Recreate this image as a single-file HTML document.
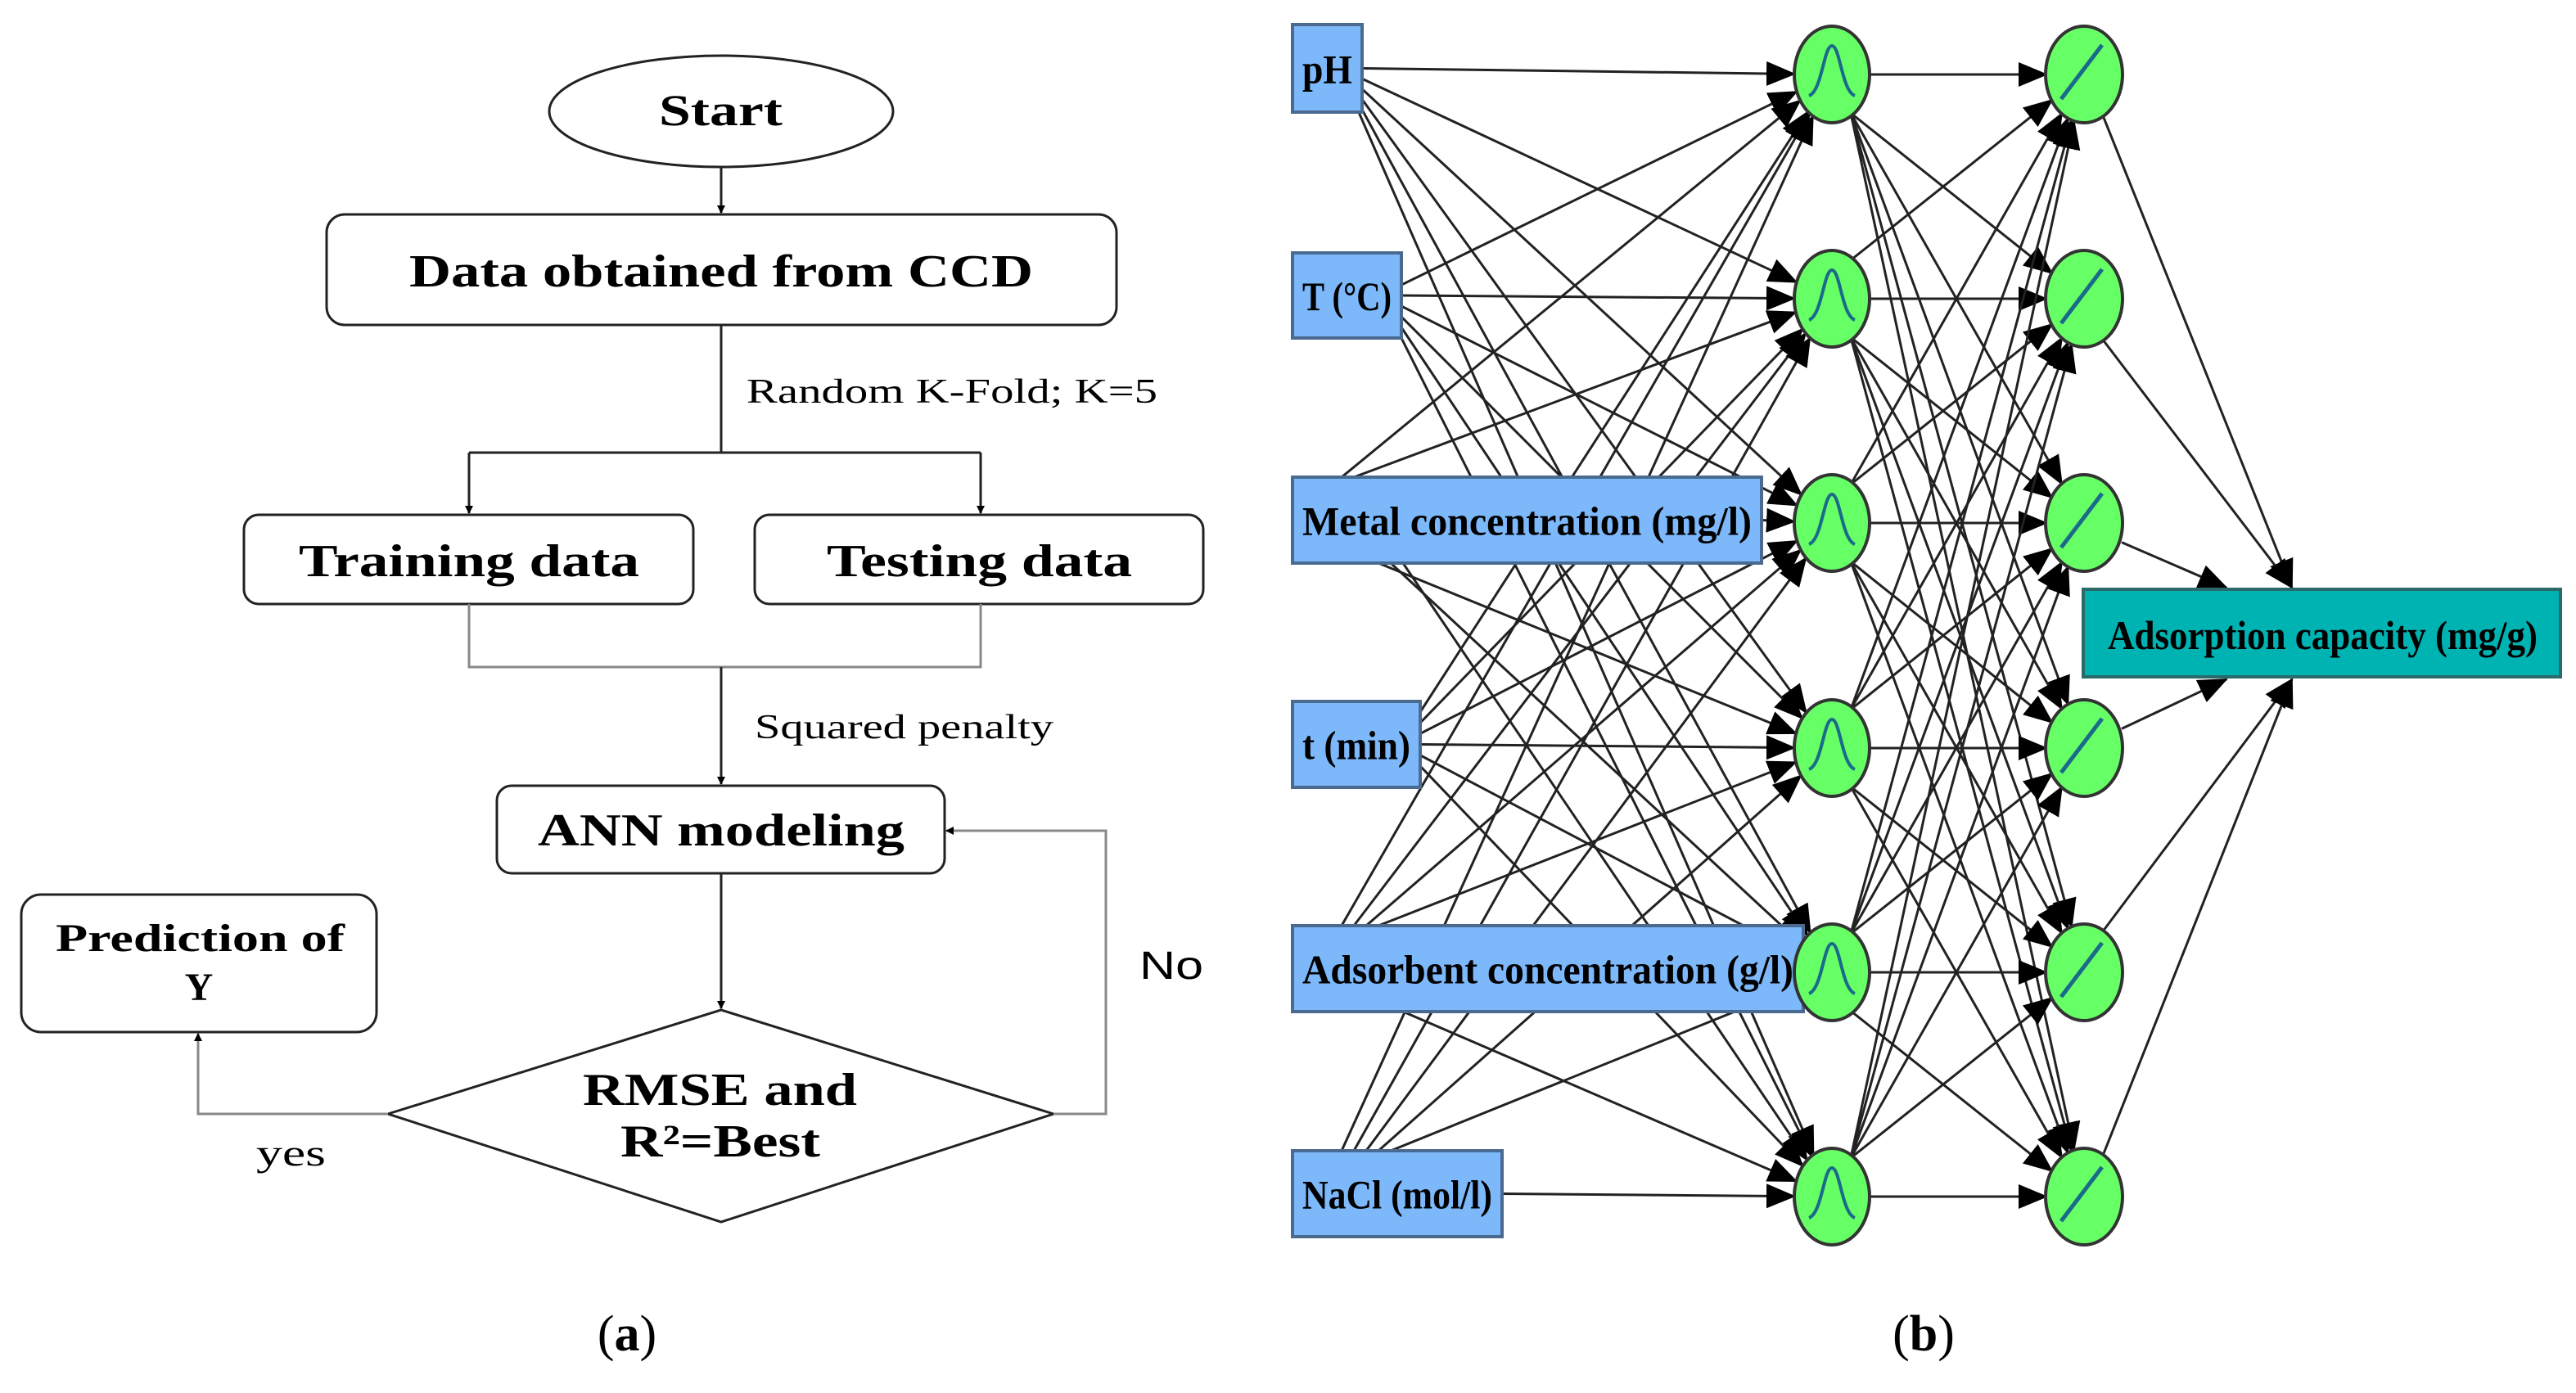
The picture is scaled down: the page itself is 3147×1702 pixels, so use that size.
<!DOCTYPE html>
<html><head><meta charset="utf-8"><style>
html,body{margin:0;padding:0;background:#fff;}
svg{display:block;}
</style></head><body>
<svg id="s" width="3147" height="1702" viewBox="0 0 3147 1702" xmlns="http://www.w3.org/2000/svg">
<defs>
<marker id="a" markerWidth="10" markerHeight="10" refX="9" refY="5" orient="auto" markerUnits="userSpaceOnUse" viewBox="0 0 10 10"><path d="M0,0 L10,5 L0,10z" fill="#000"/></marker>
<marker id="b" markerWidth="36" markerHeight="30" refX="34" refY="15" orient="auto" markerUnits="userSpaceOnUse" viewBox="0 0 36 30"><path d="M0,0 L36,15 L0,30z" fill="#000"/></marker>
</defs>
<g font-family="Liberation Serif, serif" font-weight="bold" fill="#000">
<g stroke="#222" stroke-width="3" fill="none">
<ellipse cx="881" cy="136" rx="210" ry="68"/>
<rect x="399" y="262" width="965" height="135" rx="22"/>
<rect x="298" y="629" width="549" height="109" rx="18"/>
<rect x="922" y="629" width="548" height="109" rx="18"/>
<rect x="607" y="960" width="547" height="107" rx="18"/>
<rect x="26" y="1093" width="434" height="168" rx="24"/>
<polygon points="474,1361 881,1234 1287,1361 881,1493"/>
</g>
<g stroke="#222" stroke-width="3" fill="none">
<line x1="881" y1="204" x2="881" y2="260" marker-end="url(#a)"/>
<line x1="881" y1="397" x2="881" y2="553"/>
<polyline points="573,553 1198,553"/>
<line x1="573" y1="553" x2="573" y2="627" marker-end="url(#a)"/>
<line x1="1198" y1="553" x2="1198" y2="627" marker-end="url(#a)"/>
<polyline points="573,738 573,815 1198,815 1198,738" stroke="#888"/>
<line x1="881" y1="815" x2="881" y2="958" marker-end="url(#a)"/>
<line x1="881" y1="1067" x2="881" y2="1232" marker-end="url(#a)"/>
<polyline points="1287,1361 1351,1361 1351,1015 1156,1015" stroke="#888" marker-end="url(#a)"/>
<polyline points="474,1361 242,1361 242,1263" stroke="#888" marker-end="url(#a)"/>
</g>
<g lengthAdjust="spacingAndGlyphs">
<text x="805" y="153" font-size="54" textLength="151" lengthAdjust="spacingAndGlyphs">Start</text>
<text x="500" y="350" font-size="56" textLength="762" lengthAdjust="spacingAndGlyphs">Data obtained from CCD</text>
<text x="365" y="704" font-size="56" textLength="416" lengthAdjust="spacingAndGlyphs">Training data</text>
<text x="1010" y="704" font-size="56" textLength="373" lengthAdjust="spacingAndGlyphs">Testing data</text>
<text x="657" y="1033" font-size="56" textLength="448" lengthAdjust="spacingAndGlyphs">ANN modeling</text>
<text x="68" y="1162" font-size="48" textLength="353" lengthAdjust="spacingAndGlyphs">Prediction of</text>
<text x="243" y="1222" font-size="48" text-anchor="middle">Y</text>
<text x="712" y="1350" font-size="56" textLength="335" lengthAdjust="spacingAndGlyphs">RMSE and</text>
<text x="758" y="1413" font-size="56" textLength="244" lengthAdjust="spacingAndGlyphs">R²=Best</text>
</g>
<g font-weight="normal">
<text x="912" y="492" font-size="42" textLength="502" lengthAdjust="spacingAndGlyphs">Random K-Fold; K=5</text>
<text x="922" y="902" font-size="42" textLength="365" lengthAdjust="spacingAndGlyphs">Squared penalty</text>
<text x="313" y="1424" font-size="46" textLength="85" lengthAdjust="spacingAndGlyphs">yes</text>
<text x="1392" y="1196" font-size="48" font-family="Liberation Sans, sans-serif" textLength="78" lengthAdjust="spacingAndGlyphs">No</text>
<text x="766" y="1650" font-size="62" text-anchor="middle">(<tspan font-weight="bold">a</tspan>)</text>
<text x="2350" y="1650" font-size="62" text-anchor="middle">(<tspan font-weight="bold">b</tspan>)</text>
</g>
<g id="net"></g>
</g>
</svg>
<script>
var NS="http://www.w3.org/2000/svg",g=document.getElementById('net');
function el(t,a,p){var e=document.createElementNS(NS,t);for(var k in a)e.setAttribute(k,a[k]);(p||g).appendChild(e);return e;}
var hy=[91,365,639,914,1188,1462],hx=2238,ox=2546,rx=46,ry=59;
var ins=[[1579,30,85,107,'pH'],[1579,309,133,104,'T (°C)'],[1579,583,573,105,'Metal concentration (mg/l)'],[1579,857,156,105,'t (min)'],[1579,1131,624,105,'Adsorbent concentration (g/l)'],[1579,1406,256,105,'NaCl (mol/l)']];
var lines=el('g',{stroke:'#222','stroke-width':'3',fill:'none'});
function edge(x1,y1,cx,cy){var dx=x1-cx,dy=y1-cy;var t=1/Math.sqrt(dx*dx/(rx*rx)+dy*dy/(ry*ry));var x2=cx+dx*t,y2=cy+dy*t;el('line',{x1:x1,y1:y1,x2:x2,y2:y2,'marker-end':'url(#b)'},lines);}
ins.forEach(function(b,i){var cy=b[1]+b[3]/2;hy.forEach(function(h,j){var sx,sy;if(i==j){sx=b[0]+b[2];sy=cy;}else{sx=Math.min(b[0]+b[2]-10,b[0]+60+(j*15));sy=j>i?b[1]+b[3]:b[1];if(b[2]<200){sx=b[0]+b[2]-10;sy=cy+(j-i)*8;}}edge(sx,sy,hx,h);});});
hy.forEach(function(h){hy.forEach(function(o){edge(hx+(o==h?rx:rx*0.5),h+(o==h?0:(o>h?ry*0.8:-ry*0.8)),ox,o);});});
var tg=[[2800,718],[2800,718],[2720,718],[2720,830],[2800,830],[2800,830]];
hy.forEach(function(o,i){var sx=ox+(i==2||i==3?rx:rx*0.5),sy=o+(i<2?ry*0.85:i>3?-ry*0.85:(i==2?ry*0.4:-ry*0.4));el('line',{x1:sx,y1:sy,x2:tg[i][0],y2:tg[i][1],'marker-end':'url(#b)'},lines);});
ins.forEach(function(b){el('rect',{x:b[0],y:b[1],width:b[2],height:b[3],fill:'#7db8fb',stroke:'#4a6a90','stroke-width':'4'});
var t=el('text',{x:b[0]+12,y:b[1]+b[3]/2+18,'font-size':'50',textLength:b[2]-24,lengthAdjust:'spacingAndGlyphs'});t.textContent=b[4];});
hy.forEach(function(h){el('ellipse',{cx:hx,cy:h,rx:rx,ry:ry,fill:'#66ff66',stroke:'#333','stroke-width':'4'});
el('path',{d:'M'+(hx-28)+','+(h+26)+' C'+(hx-12)+','+(h+20)+' '+(hx-10)+','+(h-35)+' '+hx+','+(h-35)+' C'+(hx+10)+','+(h-35)+' '+(hx+12)+','+(h+20)+' '+(hx+28)+','+(h+26),fill:'none',stroke:'#1a6a8a','stroke-width':'4'});
el('ellipse',{cx:ox,cy:h,rx:rx+1,ry:ry,fill:'#66ff66',stroke:'#333','stroke-width':'4'});
el('line',{x1:ox-28,y1:h+30,x2:ox+22,y2:h-36,stroke:'#1a6a8a','stroke-width':'5'});});
el('rect',{x:2545,y:720,width:583,height:107,fill:'#00b3b3',stroke:'#2a6a6a','stroke-width':'4'});
var t=el('text',{x:2575,y:793,'font-size':'50',textLength:525,lengthAdjust:'spacingAndGlyphs'});t.textContent='Adsorption capacity (mg/g)';
</script>
</body></html>
